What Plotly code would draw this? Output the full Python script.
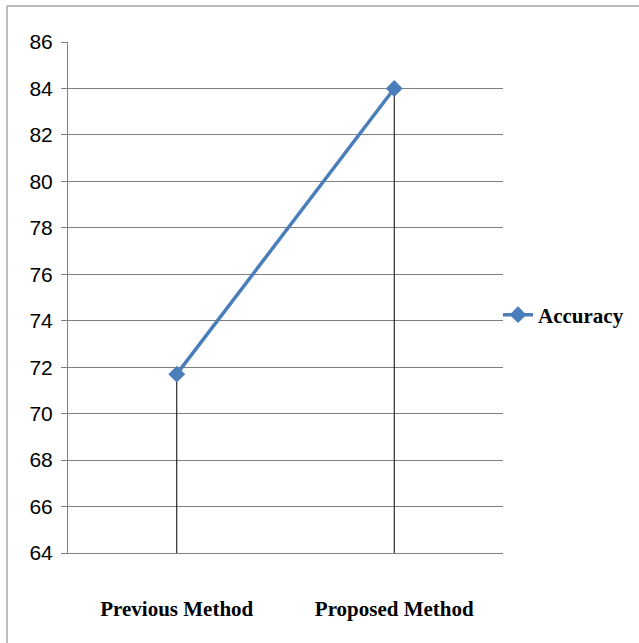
import plotly.graph_objects as go

# Accuracy comparison between the two methods
methods = ["Previous Method", "Proposed Method"]
accuracy = [71.7, 84.0]
y_ticks = [64, 66, 68, 70, 72, 74, 76, 78, 80, 82, 84, 86]

LINE_BLUE = "#4A7EBB"
GRID_GRAY = "#808080"

# vertical drop lines from each point down to the axis floor
drop_x, drop_y = [], []
for m, v in zip(methods, accuracy):
    drop_x += [m, m, None]
    drop_y += [y_ticks[0], v, None]

fig = go.Figure()
fig.add_trace(go.Scatter(
    x=drop_x, y=drop_y, mode="lines",
    line=dict(color="#000000", width=1),
    showlegend=False, hoverinfo="skip",
))
fig.add_trace(go.Scatter(
    x=methods, y=accuracy, mode="lines+markers", name="Accuracy",
    line=dict(color=LINE_BLUE, width=3.5),
    marker=dict(symbol="diamond", size=13, color=LINE_BLUE),
))

W, H = 639, 643
L, R, T, B = 68, 136, 42, 90
pw, ph = W - L - R, H - T - B

# thin outer frame (top and left edges visible)
fx0 = (7 - L) / pw
fy1 = 1 + (T - 6) / ph
fx1 = 1 + R / pw
fy0 = -B / ph
frame = dict(color="#A6A6A6", width=1.5)
fig.add_shape(type="line", xref="paper", yref="paper",
              x0=fx0, y0=fy1, x1=fx1, y1=fy1, line=frame)
fig.add_shape(type="line", xref="paper", yref="paper",
              x0=fx0, y0=fy1, x1=fx0, y1=fy0, line=frame)

fig.update_layout(
    width=W, height=H,
    margin=dict(l=L, r=R, t=T, b=B, autoexpand=False),
    paper_bgcolor="white", plot_bgcolor="white",
    showlegend=True,
    legend=dict(
        x=1.0 - 5 / pw, xanchor="left", y=(553 - 315) / ph, yanchor="middle",
        font=dict(family="Liberation Serif", size=21, color="#000000", weight="bold"),
        itemwidth=30, tracegroupgap=0, bgcolor="rgba(0,0,0,0)",
    ),
    xaxis=dict(
        type="category", range=[-0.5, 1.5],
        showgrid=False, zeroline=False,
        showline=True, linecolor=GRID_GRAY, linewidth=1,
        ticks="",
        tickfont=dict(family="Liberation Serif", size=21, color="#000000", weight="bold"),
        ticklabelstandoff=37,
    ),
    yaxis=dict(
        range=[64, 86], tickvals=y_ticks,
        showgrid=True, gridcolor=GRID_GRAY, gridwidth=1.2,
        zeroline=False,
        showline=True, linecolor=GRID_GRAY, linewidth=1,
        ticks="outside", ticklen=6, tickcolor=GRID_GRAY,
        tickfont=dict(family="Liberation Sans", size=21, color="#000000"),
        ticklabelstandoff=4,
    ),
)

fig.write_html("out.html")
